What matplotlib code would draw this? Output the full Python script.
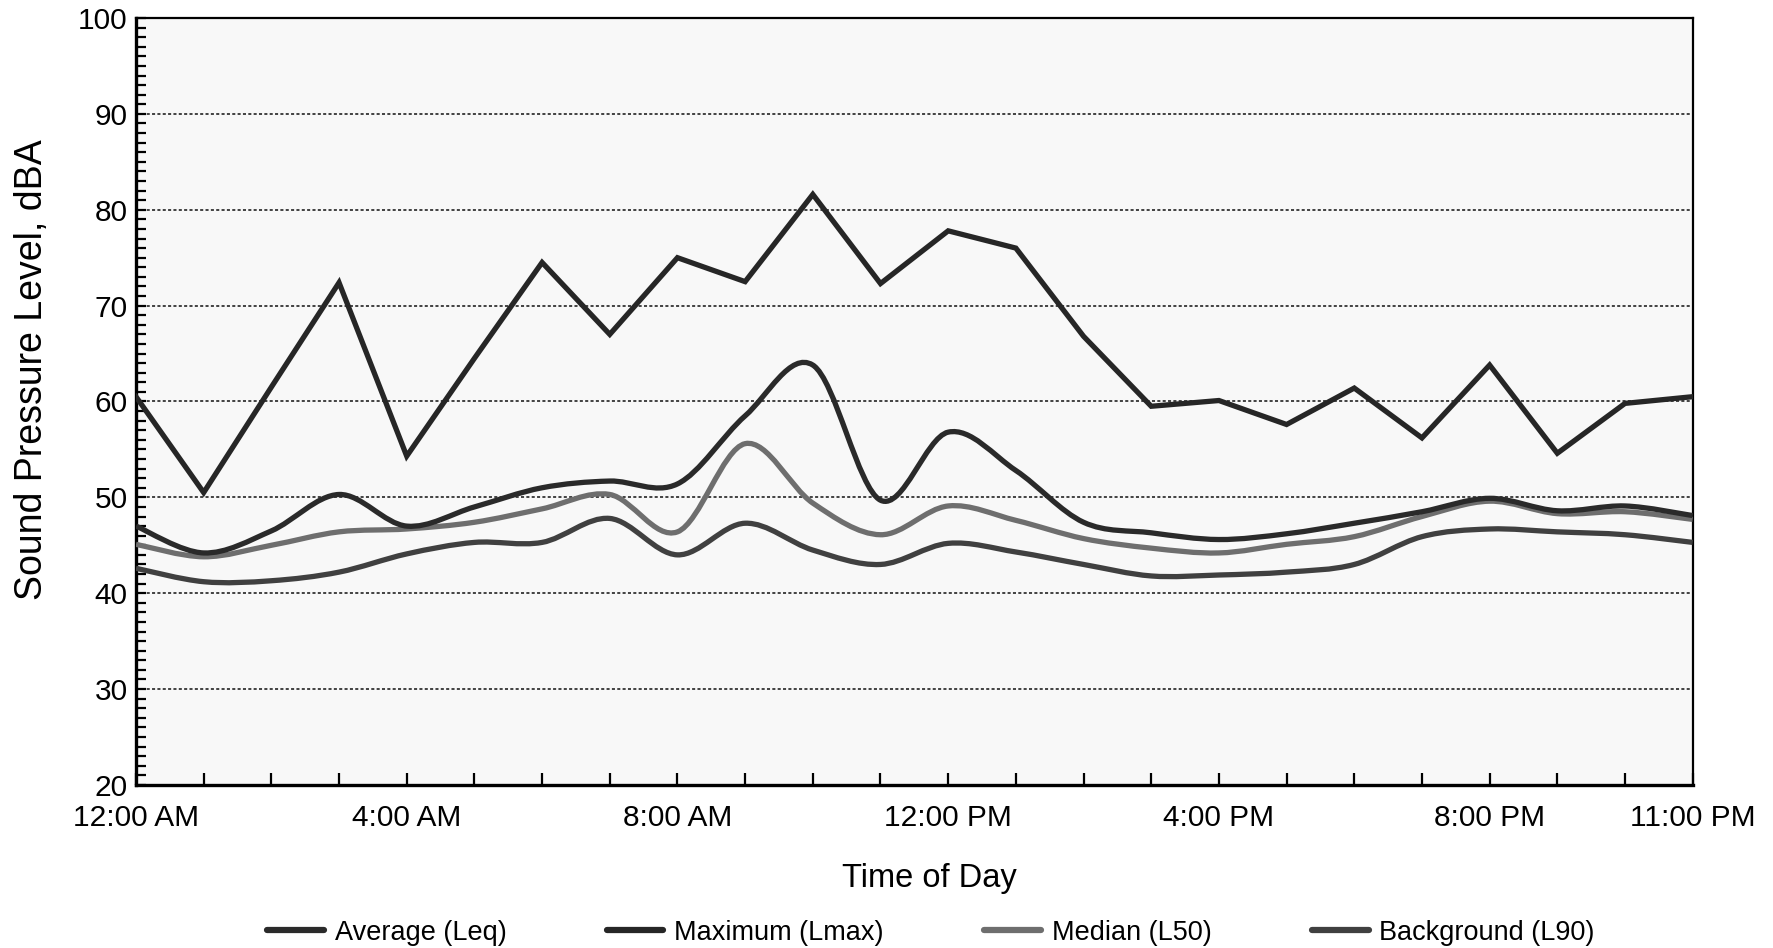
import matplotlib
matplotlib.use("Agg")
import matplotlib.pyplot as plt
from matplotlib.path import Path
from matplotlib.patches import PathPatch
from matplotlib.lines import Line2D
from matplotlib.ticker import MultipleLocator
import numpy as np

plt.rcParams['font.family'] = ['Liberation Sans', 'DejaVu Sans']

hours = list(range(24))
lmax = [60.5, 50.5, 61.5, 72.4, 54.3, 64.5, 74.5, 67.0, 75.0, 72.5, 81.6, 72.3,
        77.8, 76.0, 66.8, 59.5, 60.1, 57.6, 61.4, 56.2, 63.8, 54.6, 59.8, 60.5]
leq = [47.0, 44.2, 46.5, 50.3, 47.0, 49.0, 51.0, 51.7, 51.4, 58.5, 63.8, 49.7,
       56.8, 52.8, 47.4, 46.3, 45.6, 46.2, 47.3, 48.5, 49.9, 48.6, 49.1, 48.1]
l50 = [45.1, 43.8, 45.0, 46.4, 46.7, 47.4, 48.8, 50.3, 46.4, 55.6, 49.4, 46.1,
       49.1, 47.6, 45.7, 44.7, 44.2, 45.1, 45.9, 48.0, 49.6, 48.3, 48.5, 47.7]
l90 = [42.6, 41.2, 41.3, 42.2, 44.1, 45.3, 45.3, 47.8, 44.0, 47.3, 44.5, 43.0,
       45.2, 44.3, 43.0, 41.8, 41.9, 42.2, 43.0, 45.9, 46.7, 46.4, 46.1, 45.3]

tick_positions = [0, 4, 8, 12, 16, 20, 23]
tick_labels = ["12:00 AM", "4:00 AM", "8:00 AM", "12:00 PM", "4:00 PM", "8:00 PM", "11:00 PM"]

c_lmax = "#262626"
c_leq = "#2a2a2a"
c_l50 = "#6e6e6e"
c_l90 = "#404040"
lw = 3.8


def smooth_path(x, y):
    pts = np.column_stack([x, y]).astype(float)
    n = len(pts)
    verts = [pts[0]]
    codes = [Path.MOVETO]
    for i in range(n - 1):
        p0 = pts[i - 1] if i > 0 else pts[i]
        p1 = pts[i]
        p2 = pts[i + 1]
        p3 = pts[i + 2] if i + 2 < n else pts[i + 1]
        c1 = p1 + (p2 - p0) / 6.0
        c2 = p2 - (p3 - p1) / 6.0
        verts += [c1, c2, p2]
        codes += [Path.CURVE4] * 3
    return Path(verts, codes)


fig = plt.figure(figsize=(17.73, 9.48), dpi=100)
fig.patch.set_facecolor("white")
ax = fig.add_axes([0.0767, 0.172, 0.878, 0.809])
ax.set_facecolor("#f8f8f8")

ax.set_xlim(0, 23)
ax.set_ylim(20, 100)

for yy in range(30, 100, 10):
    ax.axhline(yy, color="#111111", linestyle=(0, (2, 1.5)), linewidth=1.1, zorder=1)

ax.plot(hours, lmax, color=c_lmax, linewidth=lw, solid_joinstyle="miter", zorder=3)
for series, col in [(l90, c_l90), (l50, c_l50), (leq, c_leq)]:
    patch = PathPatch(smooth_path(hours, series), facecolor="none", edgecolor=col,
                      linewidth=lw, zorder=3, capstyle="butt")
    ax.add_patch(patch)

ax.set_xticks(tick_positions, labels=tick_labels)
ax.xaxis.set_minor_locator(MultipleLocator(1))
ax.tick_params(axis="x", which="both", direction="in", length=9, width=1.6,
               labelsize=21.5, pad=14, top=False)
ax.yaxis.set_major_locator(MultipleLocator(10))
ax.yaxis.set_minor_locator(MultipleLocator(1))
ax.tick_params(axis="y", which="major", direction="in", length=7, width=1.6,
               labelsize=21.5, pad=6, right=False)
ax.tick_params(axis="y", which="minor", direction="in", length=7, width=1.6, right=False)

for s in ["left", "bottom"]:
    ax.spines[s].set_linewidth(2.4)
for s in ["top", "right"]:
    ax.spines[s].set_linewidth(1.6)

ax.set_xlabel("Time of Day", fontsize=23.5)
ax.xaxis.set_label_coords(0.5095, -0.102)
ax.set_ylabel("Sound Pressure Level, dBA", fontsize=27)
ax.yaxis.set_label_coords(-0.0555, 0.541)

handles = [
    Line2D([], [], color=c_leq, linewidth=4.5, solid_capstyle="round"),
    Line2D([], [], color=c_lmax, linewidth=4.5, solid_capstyle="round"),
    Line2D([], [], color=c_l50, linewidth=4.5, solid_capstyle="round"),
    Line2D([], [], color=c_l90, linewidth=4.5, solid_capstyle="round"),
]
labels = ["Average (Leq)", "Maximum (Lmax)", "Median (L50)", "Background (L90)"]
fig.legend(handles, labels, loc="center", bbox_to_anchor=(0.525, 0.016), ncol=4,
           frameon=False, fontsize=19.5, handlelength=2.1, handletextpad=0.4,
           columnspacing=3.7, borderpad=0.1)

fig.savefig("out.png", dpi=100)
